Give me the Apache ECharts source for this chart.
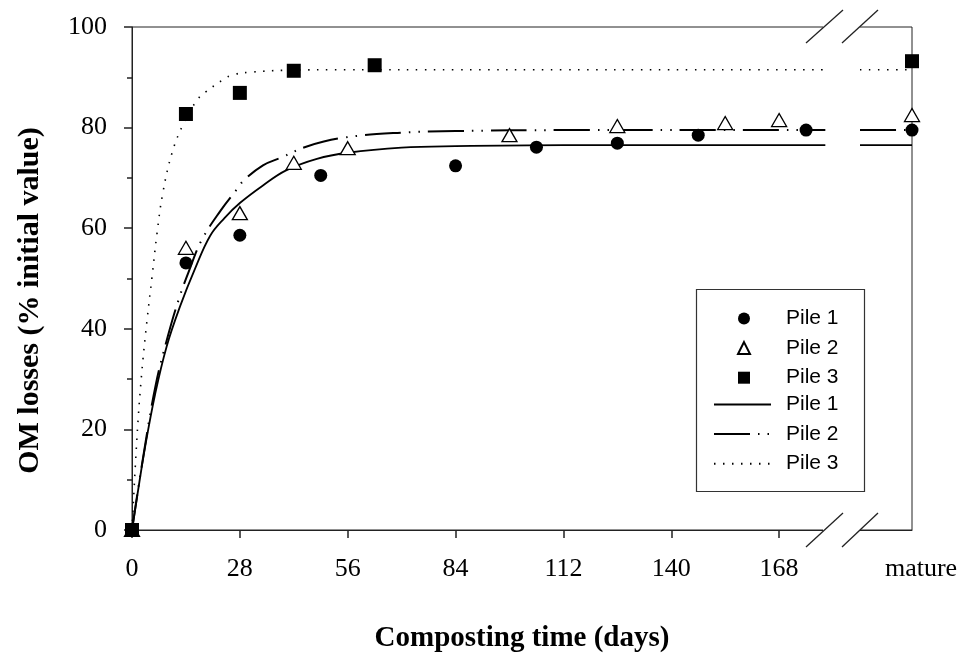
<!DOCTYPE html>
<html>
<head>
<meta charset="utf-8">
<script src="https://cdn.jsdelivr.net/npm/echarts@6/dist/echarts.min.js"></script>
<style>html,body{margin:0;padding:0;background:#fff}#c{width:975px;height:653px}</style>
</head>
<body>
<div id="c"></div>
<script>
// ---------- data ----------
const tickDays = [0, 28, 56, 84, 112, 140, 168];
const matureLabel = 'mature';

const pile1Days = [0, 14, 28, 49, 84, 105, 126, 147, 175, 'mature'];
const pile1Vals = [0, 53.1, 58.6, 70.5, 72.4, 76.1, 76.9, 78.5, 79.5, 79.5];
const pile2Days = [0, 14, 28, 42, 56, 98, 126, 154, 168, 'mature'];
const pile2Vals = [0, 56.1, 63.0, 73.0, 75.9, 78.5, 80.3, 80.9, 81.5, 82.5];
const pile3Days = [0, 14, 28, 42, 63, 'mature'];
const pile3Vals = [0, 82.7, 86.9, 91.3, 92.4, 93.2];

// fitted curves ('break' = axis break gap)
const fit1Days = [0, 1.3, 3.4, 6, 9, 12.5, 16.4, 20.3, 24, 28, 34, 40, 48, 56, 70, 84, 112, 140, 180, 'break', 189, 'mature'];
const fit1Vals = [0, 6.5, 16.5, 27, 36.5, 44.5, 52, 58.5, 62, 65, 68.5, 71.5, 73.8, 75, 76, 76.3, 76.5, 76.5, 76.5, null, 76.5, 76.5];
const fit2Days = [0, 3, 6.2, 9.3, 12.2, 14.8, 18, 23, 27.5, 29, 34, 38.6, 45.6, 55, 70, 84, 112, 140, 180, 'break', 189, 'mature'];
const fit2Vals = [0, 15, 29, 38.5, 46, 51.5, 57.5, 63.5, 68, 69.5, 72.5, 74, 76.3, 78, 79, 79.3, 79.5, 79.5, 79.5, null, 79.5, 79.5];
const fit3Days = [0, 1.3, 2.5, 3.9, 5.2, 6.5, 8, 10.4, 13.2, 16.9, 19, 23.6, 26.2, 30.6, 40, 56, 84, 112, 140, 180, 'break', 189, 'mature'];
const fit3Vals = [0, 18.5, 31, 41.7, 50.3, 59, 67, 75, 80.5, 85.5, 87, 89.5, 90.5, 91, 91.4, 91.5, 91.5, 91.5, 91.5, 91.5, null, 91.5, 91.5];

// ---------- helpers ----------
const MATURE_X = 202.5; // axis coordinate of the "mature" column
function toX(d) { return d === 'mature' ? MATURE_X : d; }
function pairs(days, vals) {
  return days.map((d, i) => d === 'break' ? [184, '-'] : [toX(d), vals[i]]);
}

const serif = '"Liberation Serif","Times New Roman",serif';
const sans = '"Liberation Sans",Arial,sans-serif';
const chart = echarts.init(document.getElementById('c'), null, {renderer: 'canvas'});
const axisColor = '#222';
const legendText = {fontFamily: sans, fontSize: 21, lineHeight: 20, color: '#000'};
const noSymbol = {color: 'rgba(0,0,0,0)', opacity: 0};

const option = {
  backgroundColor: '#fff',
  animation: false,
  grid: {left: 132, right: 63, top: 27, bottom: 123, outerBoundsMode: 'none', containLabel: false,
         show: true, borderColor: axisColor, borderWidth: 1, backgroundColor: 'transparent'},
  xAxis: {
    type: 'value', min: 0, max: MATURE_X,
    name: 'Composting time (days)', nameLocation: 'middle', nameGap: 94,
    nameTextStyle: {fontFamily: serif, fontWeight: 'bold', fontSize: 29, color: '#000'},
    axisLine: {show: true, onZero: false, lineStyle: {color: axisColor, width: 1}},
    axisTick: {show: true, inside: false, length: 8, customValues: tickDays, lineStyle: {color: axisColor, width: 1.5}},
    axisLabel: {
      customValues: tickDays.concat([MATURE_X]), margin: 26,
      fontFamily: serif, fontSize: 26, color: '#000',
      formatter: v => (v === MATURE_X ? '{m|' + matureLabel + '}' : String(v)),
      rich: {m: {fontFamily: serif, fontSize: 26, color: '#000', padding: [0, 0, 0, 18]}}
    },
    splitLine: {show: false}
  },
  yAxis: {
    type: 'value', min: 0, max: 100, interval: 20,
    name: 'OM losses (% initial value)', nameLocation: 'middle', nameGap: 87,
    nameTextStyle: {fontFamily: serif, fontWeight: 'bold', fontSize: 30, color: '#000', padding: [0, 44, 0, 0]},
    axisLine: {show: true, lineStyle: {color: axisColor, width: 1}},
    axisTick: {show: true, inside: false, length: 8, lineStyle: {color: axisColor, width: 1.5}},
    minorTick: {show: true, splitNumber: 2, length: 5, lineStyle: {color: axisColor, width: 1.5}},
    axisLabel: {margin: 25, fontFamily: serif, fontSize: 26, color: '#000'},
    splitLine: {show: false}
  },
  legend: [
    {
      orient: 'vertical', left: 737, top: 308, padding: 0,
      itemGap: 8.6, itemWidth: 12, itemHeight: 12,
      data: ['Pile 1', 'Pile 2', 'Pile 3'],
      textStyle: Object.assign({padding: [0, 0, 0, 31]}, legendText)
    },
    {
      orient: 'vertical', left: 713, top: 394, padding: 0,
      itemGap: 8.6, itemWidth: 57, itemHeight: 12,
      data: ['Pile 1 fit', 'Pile 2 fit', 'Pile 3 fit'],
      formatter: n => n.replace(' fit', ''),
      itemStyle: noSymbol,
      textStyle: Object.assign({padding: [0, 0, 0, 10]}, legendText)
    }
  ],
  series: [
    {name: 'Pile 1 fit', type: 'line', data: pairs(fit1Days, fit1Vals), smooth: 0.4, symbol: 'none', connectNulls: false,
     itemStyle: noSymbol, lineStyle: {color: '#000', width: 1.8, type: 'solid'}, z: 2},
    {name: 'Pile 2 fit', type: 'line', data: pairs(fit2Days, fit2Vals), smooth: 0.4, symbol: 'none', connectNulls: false,
     itemStyle: noSymbol, lineStyle: {color: '#000', width: 2, type: [36, 8, 1.5, 8, 1.5, 8]}, z: 2},
    {name: 'Pile 3 fit', type: 'line', data: pairs(fit3Days, fit3Vals), smooth: 0.4, symbol: 'none', connectNulls: false,
     itemStyle: noSymbol, lineStyle: {color: '#000', width: 1.6, type: [1.5, 7.5]}, z: 2},
    {name: 'Pile 1', type: 'scatter', data: pairs(pile1Days, pile1Vals), symbol: 'circle', symbolSize: 13,
     itemStyle: {color: '#000', opacity: 1}, z: 4},
    {name: 'Pile 2', type: 'scatter', data: pairs(pile2Days, pile2Vals), symbol: 'triangle', symbolSize: [15, 13],
     itemStyle: {color: '#fff', borderColor: '#000', borderWidth: 1.3, opacity: 1}, z: 5},
    {name: 'Pile 3', type: 'scatter', data: pairs(pile3Days, pile3Vals), symbol: 'rect', symbolSize: 14,
     itemStyle: {color: '#000', opacity: 1}, z: 6}
  ],
  graphic: [
    {type: 'rect', shape: {x: 696.5, y: 289.5, width: 168, height: 202}, style: {fill: 'none', stroke: '#333', lineWidth: 1.2}, z: 1},
    {type: 'rect', shape: {x: 823, y: 21, width: 37, height: 12}, style: {fill: '#fff'}, z: 100},
    {type: 'rect', shape: {x: 823, y: 524, width: 37, height: 12}, style: {fill: '#fff'}, z: 100},
    {type: 'line', shape: {x1: 806, y1: 43, x2: 843, y2: 10}, style: {stroke: axisColor, lineWidth: 1.3}, z: 101},
    {type: 'line', shape: {x1: 842, y1: 43, x2: 878, y2: 10}, style: {stroke: axisColor, lineWidth: 1.3}, z: 101},
    {type: 'line', shape: {x1: 806, y1: 547, x2: 843, y2: 513}, style: {stroke: axisColor, lineWidth: 1.3}, z: 101},
    {type: 'line', shape: {x1: 842, y1: 547, x2: 878, y2: 513}, style: {stroke: axisColor, lineWidth: 1.3}, z: 101}
  ]
};
chart.setOption(option);
</script>
</body>
</html>
